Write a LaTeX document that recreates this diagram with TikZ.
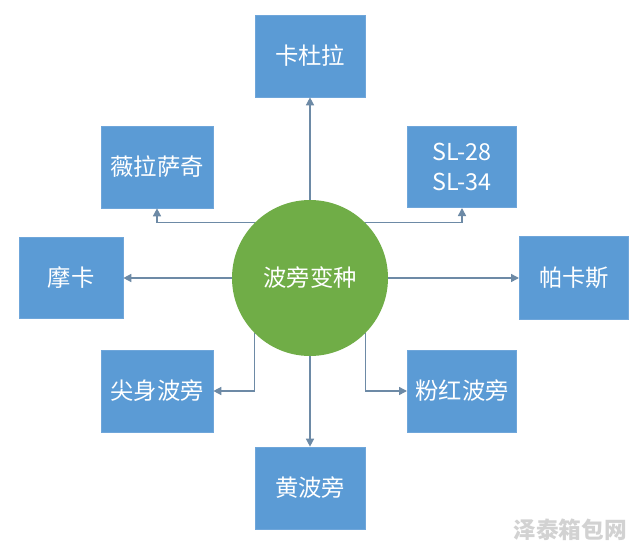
\documentclass[tikz,border=0pt]{standalone}
\usepackage{fontspec}
\setmainfont{Noto Sans CJK SC}
\usetikzlibrary{arrows.meta}
\definecolor{boxblue}{HTML}{5B9BD5}
\definecolor{boxedge}{HTML}{6FA6DA}
\definecolor{hubgreen}{HTML}{70AD47}
\definecolor{linkgray}{HTML}{6D8AA6}
\definecolor{wmgray}{HTML}{D2D2D2}
\tikzset{
  varbox/.style={rectangle, fill=boxblue, draw=boxedge, line width=0.5pt, text=white,
    font=\fontsize{17.5pt}{22pt}\selectfont, align=center, inner sep=0pt},
  hub/.style={circle, fill=hubgreen, text=white, minimum size=117pt, inner sep=0pt,
    font=\fontsize{17.5pt}{22pt}\selectfont},
  link/.style={draw=linkgray, line width=1.1pt, -{Triangle[length=6pt,width=6pt]}},
}
\begin{document}
\begin{tikzpicture}[x=0.75pt,y=-0.75pt]
\useasboundingbox (0,0) rectangle (640,546);
\fill[white] (0,0) rectangle (640,546);
\node[hub] (hub) at (310,278) {波旁变种};
\node[varbox, minimum width=82.5pt, minimum height=61.5pt] (kdl) at (310,56) {卡杜拉};
\node[varbox, minimum width=84pt, minimum height=61.5pt] (wlsq) at (157,167) {薇拉萨奇};
\node[varbox, minimum width=82pt, minimum height=61pt] (sl) at (462,167) {SL-28\\SL-34};
\node[varbox, minimum width=78pt, minimum height=61pt] (mk) at (71,278) {摩卡};
\node[varbox, minimum width=82pt, minimum height=62pt] (pks) at (574,278) {帕卡斯};
\node[varbox, minimum width=84pt, minimum height=61.5pt] (jsbp) at (157,391) {尖身波旁};
\node[varbox, minimum width=82pt, minimum height=61.5pt] (fhbp) at (462,391) {粉红波旁};
\node[varbox, minimum width=82.5pt, minimum height=61.5pt] (hbp) at (310,488) {黄波旁};
\draw[link] (hub.north) -- (kdl.south);
\draw[link] (hub.south) -- (hbp.north);
\draw[link] (hub.west) -- (mk.east);
\draw[link] (hub.east) -- (pks.west);
\draw[link] (hub.135) -- (hub.135 -| wlsq.south) -- (wlsq.south);
\draw[link] (hub.45) -- (hub.45 -| sl.south) -- (sl.south);
\draw[link] (hub.225) -- (hub.225 |- jsbp.east) -- (jsbp.east);
\draw[link] (hub.315) -- (hub.315 |- fhbp.west) -- (fhbp.west);
\node[text=wmgray, font=\fontsize{17pt}{20pt}\selectfont\bfseries] (wm) at (570,530) {泽泰箱包网};
\end{tikzpicture}
\end{document}
